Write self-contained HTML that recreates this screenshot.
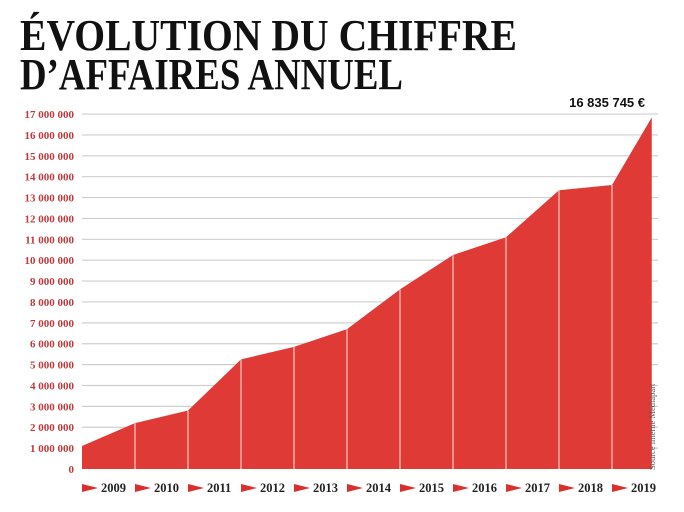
<!DOCTYPE html>
<html><head><meta charset="utf-8"><style>
html,body{margin:0;padding:0;background:#fff;}
svg{display:block;}
</style></head><body>
<svg id="chart" width="684" height="512" viewBox="0 0 684 512" xmlns="http://www.w3.org/2000/svg">
<g font-family="Liberation Serif, serif" font-weight="bold" fill="#111">
<text x="20" y="50" font-size="44" textLength="497" lengthAdjust="spacingAndGlyphs">ÉVOLUTION DU CHIFFRE</text>
<text x="20" y="89" font-size="44" textLength="383" lengthAdjust="spacingAndGlyphs">D’AFFAIRES ANNUEL</text>
</g>
<g id="grid"></g>
<g id="ylabels"></g>
<g id="area"></g>
<g id="xlabels"></g>
<text x="645" y="107" text-anchor="end" font-family="Liberation Sans, sans-serif" font-weight="bold" font-size="13" fill="#111">16 835 745 €</text>
<text transform="translate(655,470) rotate(-90)" font-family="Liberation Serif, serif" font-size="8.5" fill="#555">Source interne Mediapart</text>
</svg>
<script>
const yTicks = [0,1,2,3,4,5,6,7,8,9,10,11,12,13,14,15,16,17];
const tickLabels = ["0","1 000 000","2 000 000","3 000 000","4 000 000","5 000 000","6 000 000","7 000 000","8 000 000","9 000 000","10 000 000","11 000 000","12 000 000","13 000 000","14 000 000","15 000 000","16 000 000","17 000 000"];
const years = ["2009","2010","2011","2012","2013","2014","2015","2016","2017","2018","2019"];
const pointPos = [0,1,2,3,4,5,6,7,8,9,10,10.75];
const values = [1.1,2.2,2.8,5.25,5.85,6.7,8.6,10.25,11.1,13.35,13.6,16.84];

const NS="http://www.w3.org/2000/svg";
const x0=82, step=53, y0=469, yPer=20.88;
const X = i => x0 + i*step;
const Y = v => y0 - v*yPer;
function mk(tag, attrs, parent){const e=document.createElementNS(NS,tag);for(const k in attrs)e.setAttribute(k,attrs[k]);parent.appendChild(e);return e;}
const grid=document.getElementById('grid'), yl=document.getElementById('ylabels'), area=document.getElementById('area'), xl=document.getElementById('xlabels');
yTicks.forEach((t,i)=>{
  if(t>0){const l=mk('line',{x1:82,x2:658,y1:Y(t),y2:Y(t),stroke:'#cfcfcf','stroke-width':1.2},grid);
  
  }
  const tx=mk('text',{x:74,y:Y(t)+4,'text-anchor':'end','font-family':'Liberation Serif, serif','font-weight':'bold','font-size':11,fill:'#c0393b'},yl);
  tx.textContent=tickLabels[i];
  
  
});
let d='M'+X(pointPos[0])+','+y0;
values.forEach((v,i)=>{d+=' L'+X(pointPos[i])+','+Y(v);});
d+=' L'+X(pointPos[pointPos.length-1])+','+y0+' Z';
const p=mk('path',{d:d,fill:'#e03a36'},area);


for(let i=1;i<pointPos.length-1;i++){
  const l=mk('line',{x1:X(pointPos[i]),x2:X(pointPos[i]),y1:Y(values[i]),y2:y0,stroke:'#f4c9c6','stroke-width':1.2},area);
  
  
}
years.forEach((yr,i)=>{
  const bx=X(i);
  const tri=mk('polygon',{points:(bx)+','+484+' '+(bx+16)+','+488+' '+(bx)+','+492,fill:'#d9302d'},xl);
  
  
  const t=mk('text',{x:bx+19,y:492,'font-family':'Liberation Serif, serif','font-weight':'bold','font-size':12.5,fill:'#222'},xl);
  t.textContent=yr;
  
  
});
</script>
</body></html>
